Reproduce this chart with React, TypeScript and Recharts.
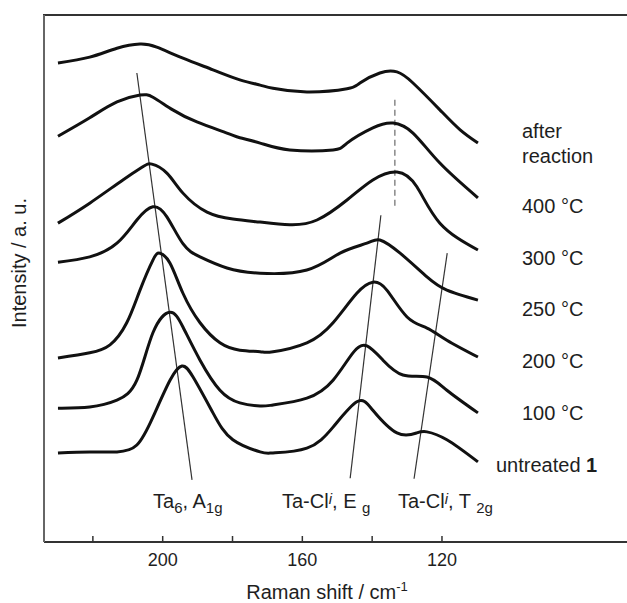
// Raman spectra, Ta6 cluster samples after thermal treatment (stacked, offset traces).
import { LineChart, Line, XAxis, YAxis, ReferenceLine } from "recharts";

const FONT = "'Liberation Sans', Arial, Helvetica, sans-serif";
const INK = "#1e1e1e";

// Raman shift (cm-1) / intensity (a.u., offset), top trace first
const afterShift = [230, 220.9, 213.1, 206.5, 201.7, 194.2, 185.6, 177.9, 172.1, 168.4, 158.7, 147.2, 143.5, 137.8, 132.9, 128.3, 120.6, 114.8, 109.7];
const afterInt = [90.9, 92.0, 93.7, 94.5, 93.9, 91.8, 89.6, 87.7, 86.7, 86.1, 85.4, 86.0, 87.1, 89.0, 89.2, 87.1, 82.0, 78.2, 75.7];

const t400Shift = [230, 220.9, 213.1, 206.5, 202.8, 197.1, 190.2, 181.6, 177.9, 172.1, 163.6, 151.2, 147.2, 139.8, 134.0, 128.3, 120.6, 109.7];
const t400Int = [77.0, 80.5, 83.5, 84.8, 84.4, 82.0, 79.7, 77.6, 76.7, 75.7, 74.4, 74.4, 75.7, 78.6, 79.5, 77.6, 71.9, 65.3];

const t300Shift = [230, 220.9, 211.4, 205.7, 203.1, 198.8, 194.2, 187.3, 179.9, 172.1, 163.6, 155.8, 147.2, 139.8, 132.9, 127.2, 120.6, 109.7];
const t300Int = [60.5, 64.3, 68.7, 71.2, 71.7, 70.0, 66.2, 62.6, 61.3, 60.7, 60.2, 61.1, 64.9, 68.7, 70.2, 67.4, 60.5, 55.4];

const t250Shift = [230, 220.9, 213.1, 207.4, 202.8, 198.8, 194.2, 189.3, 181.6, 172.1, 158.7, 149.2, 141.5, 137.8, 132.0, 124.3, 118.6, 109.7];
const t250Int = [53.1, 54.1, 56.7, 61.1, 63.6, 61.7, 56.6, 54.1, 52.0, 51.0, 51.6, 54.8, 56.7, 57.3, 54.8, 50.3, 47.8, 45.9];

const t200Shift = [230, 220.9, 215.1, 210.3, 206.5, 202.8, 200.8, 197.9, 194.2, 189.3, 183.6, 177.9, 172.1, 168.4, 158.7, 151.2, 144.4, 139.8, 135.8, 130.0, 124.3, 118.6, 109.7];
const t200Int = [34.9, 35.9, 37.4, 41.6, 47.8, 53.5, 54.8, 52.9, 47.2, 41.6, 37.8, 36.4, 36.1, 36.1, 37.8, 41.6, 47.2, 49.3, 47.8, 42.7, 40.6, 38.3, 35.1];

const t100Shift = [230, 220.9, 213.1, 207.4, 202.8, 197.9, 194.2, 189.3, 183.6, 177.9, 172.1, 168.4, 158.7, 151.2, 145.5, 141.5, 136.9, 131.2, 124.3, 118.6, 109.7];
const t100Int = [25.4, 25.6, 26.9, 30.7, 39.7, 43.6, 40.8, 34.5, 28.8, 26.4, 25.8, 26.0, 27.3, 30.7, 35.9, 37.2, 34.5, 31.7, 31.3, 28.8, 24.5];

const rawShift = [230, 220.9, 213.1, 207.4, 202.8, 197.9, 194.5, 191.3, 185.6, 179.9, 172.1, 168.4, 158.7, 151.2, 144.4, 139.8, 132.9, 127.2, 124.3, 118.6, 109.7];
const rawInt = [16.9, 17.1, 17.1, 18.4, 23.7, 30.7, 33.4, 31.3, 24.5, 19.4, 17.1, 16.9, 17.8, 21.8, 26.6, 25.0, 20.7, 20.7, 20.9, 19.4, 15.2];

const xTicks = [220, 200, 180, 160, 140, 120];

// guide lines through the band maxima: [shift, intensity] end points
const a1gGuide = [[207.4, 89.0], [191.6, 11.8]];
const egGuide = [[137.5, 62.0], [146.3, 12.1]];
const t2gGuide = [[118.5, 54.8], [128.0, 12.0]];
const peakMark = [[133.5, 83.9], [133.5, 63.4]];

const toPoints = (xs: number[], ys: number[]) => xs.map((x, i) => ({ x, y: ys[i] }));
const seg = (g: number[][]) => g.map(([x, y]) => ({ x, y }));

const traces = [
  toPoints(afterShift, afterInt),
  toPoints(t400Shift, t400Int),
  toPoints(t300Shift, t300Int),
  toPoints(t250Shift, t250Int),
  toPoints(t200Shift, t200Int),
  toPoints(t100Shift, t100Int),
  toPoints(rawShift, rawInt),
];

function ShiftTick({ x, y, payload }: any) {
  const v = payload.value;
  return (
    <g>
      <line x1={x} x2={x} y1={y} y2={y - 6} stroke="#333" strokeWidth={1.5} />
      {v % 40 === 0 && (
        <text x={x} y={y + 24} textAnchor="middle" fontSize={18} fontFamily={FONT} fill={INK}>
          {v}
        </text>
      )}
    </g>
  );
}

const txt = { fontFamily: FONT, fontSize: 20, fill: INK };
const sub = { fontSize: 15 };

export default function App() {
  return (
    <div style={{ position: "absolute", left: 0, top: 0 }}>
      <LineChart width={627} height={603} margin={{ top: 15, right: 0, bottom: 0, left: 0 }}>
        <XAxis
          dataKey="x"
          type="number"
          domain={[67, 234]}
          reversed
          allowDataOverflow
          ticks={xTicks}
          interval={0}
          height={61}
          tickSize={0}
          tickMargin={0}
          tickLine={false}
          tick={ShiftTick}
          axisLine={{ stroke: "#333", strokeWidth: 2 }}
        />
        <YAxis
          type="number"
          domain={[0, 100]}
          allowDataOverflow
          width={44}
          tick={false}
          tickLine={false}
          axisLine={{ stroke: "#666", strokeWidth: 2 }}
        />

        {/* frame top */}
        <line x1={43} x2={627} y1={15} y2={15} stroke="#333" strokeWidth={2} />

        <ReferenceLine segment={seg(a1gGuide)} stroke="#333" strokeWidth={1.2} ifOverflow="visible" />
        <ReferenceLine segment={seg(egGuide)} stroke="#333" strokeWidth={1.2} ifOverflow="visible" />
        <ReferenceLine segment={seg(t2gGuide)} stroke="#333" strokeWidth={1.2} ifOverflow="visible" />
        <ReferenceLine
          segment={seg(peakMark)}
          stroke="#888"
          strokeWidth={1.5}
          strokeDasharray="6 4"
          ifOverflow="visible"
        />

        {traces.map((pts, i) => (
          <Line
            key={i}
            data={pts}
            dataKey="y"
            type="natural"
            stroke="#111"
            strokeWidth={3}
            dot={false}
            activeDot={false}
            isAnimationActive={false}
          />
        ))}

        {/* band assignments */}
        <text x={153} y={508} {...txt}>
          Ta<tspan dy={5} {...sub}>6</tspan>
          <tspan dy={-5}>, A</tspan>
          <tspan dy={5} {...sub}>1g</tspan>
        </text>
        <text x={282} y={508} {...txt}>
          Ta-Cl<tspan fontStyle="italic" fontSize={15} dy={-4}>i</tspan>
          <tspan dy={4}>, E </tspan>
          <tspan dy={5} {...sub}>g</tspan>
        </text>
        <text x={398} y={508} {...txt}>
          Ta-Cl<tspan fontStyle="italic" fontSize={15} dy={-4}>i</tspan>
          <tspan dy={4}>, T </tspan>
          <tspan dy={5} {...sub}>2g</tspan>
        </text>

        {/* sample labels */}
        <text x={522} y={138} {...txt}>after</text>
        <text x={522} y={163} {...txt}>reaction</text>
        <text x={522} y={213} {...txt}>400 °C</text>
        <text x={522} y={265} {...txt}>300 °C</text>
        <text x={522} y={316} {...txt}>250 °C</text>
        <text x={522} y={368} {...txt}>200 °C</text>
        <text x={522} y={420} {...txt}>100 °C</text>
        <text x={496} y={472} {...txt}>
          untreated <tspan fontWeight="bold">1</tspan>
        </text>

        {/* axis titles */}
        <text x={327} y={599} textAnchor="middle" {...txt}>
          Raman shift / cm<tspan dy={-8} fontSize={13}>-1</tspan>
        </text>
        <text x={26} y={263} textAnchor="middle" transform="rotate(-90, 26, 263)" {...txt}>
          Intensity / a. u.
        </text>
      </LineChart>
    </div>
  );
}
